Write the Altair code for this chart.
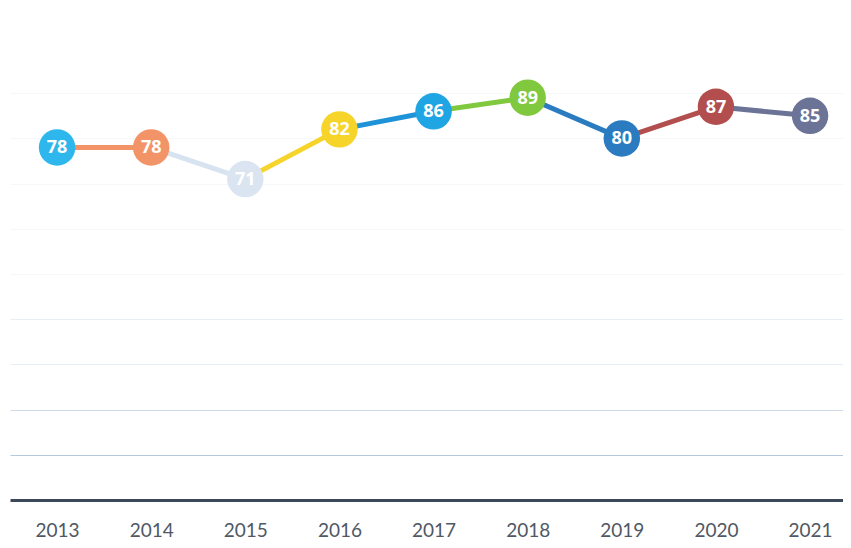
import altair as alt
import pandas as pd

years = [2013, 2014, 2015, 2016, 2017, 2018, 2019, 2020, 2021]
values = [78, 78, 71, 82, 86, 89, 80, 87, 85]
point_colors = ["#2db7ec", "#f29468", "#dbe5f1", "#f6d42a", "#1fa5e3",
                "#80c83e", "#2a7bc0", "#b24f4e", "#6b7396"]
segment_colors = ["#f29468", "#d8e3f0", "#f6d42a", "#1f93d8",
                  "#80c83e", "#2a7bc0", "#b24f4e", "#6b7396"]

pts = pd.DataFrame({"year": years, "value": values,
                    "key": [str(y) for y in years]})
seg = pd.DataFrame({
    "x": years[:-1], "y": values[:-1],
    "x2": years[1:], "y2": values[1:],
    "skey": ["s" + str(y) for y in years[1:]],
})

xscale = alt.Scale(domain=[2012.5, 2021.35], nice=False, zero=False)
yscale = alt.Scale(domain=[0, 100], nice=False)

xaxis = alt.Axis(values=years, format="d", title=None, grid=False, ticks=False,
                 domainColor="#3a4859", domainWidth=3, labelFont="Lato",
                 labelFontSize=19, labelColor="#4f5864", labelPadding=21)
yaxis = alt.Axis(values=[10, 20, 30, 40, 50, 60, 70, 80, 90], title=None,
                 labels=False, ticks=False, domain=False, grid=True,
                 gridColor="#9fb6d2", gridWidth=1,
                 gridOpacity={"condition": [
                     {"test": "datum.value <= 10", "value": 0.75},
                     {"test": "datum.value <= 20", "value": 0.5},
                     {"test": "datum.value <= 40", "value": 0.25}],
                     "value": 0.1})

lines = alt.Chart(seg).mark_rule(strokeWidth=5, strokeCap="round").encode(
    x=alt.X("x:Q", scale=xscale, axis=xaxis),
    y=alt.Y("y:Q", scale=yscale, axis=yaxis),
    x2="x2:Q", y2="y2:Q",
    color=alt.Color("skey:N", scale=alt.Scale(domain=["s" + str(y) for y in years[1:]],
                                              range=segment_colors), legend=None),
)

circles = alt.Chart(pts).mark_circle(size=1330, opacity=1).encode(
    x=alt.X("year:Q", scale=xscale),
    y=alt.Y("value:Q", scale=yscale),
    color=alt.Color("key:N", scale=alt.Scale(domain=[str(y) for y in years],
                                             range=point_colors), legend=None),
)

labels = alt.Chart(pts).mark_text(font="Open Sans", fontWeight="bold", fontSize=18,
                                  color="white", baseline="middle", dy=1).encode(
    x=alt.X("year:Q", scale=xscale),
    y=alt.Y("value:Q", scale=yscale),
    text=alt.Text("value:Q"),
)

chart = alt.layer(lines, circles, labels).resolve_scale(color="independent").properties(
    width=833, height=452,
    autosize=alt.AutoSizeParams(type="none"),
    padding={"left": 2, "top": 40, "right": 0, "bottom": 40},
).configure(background="white").configure_view(stroke=None, strokeWidth=0)

chart.save("out.html", embed_options={"renderer": "svg", "actions": False})
